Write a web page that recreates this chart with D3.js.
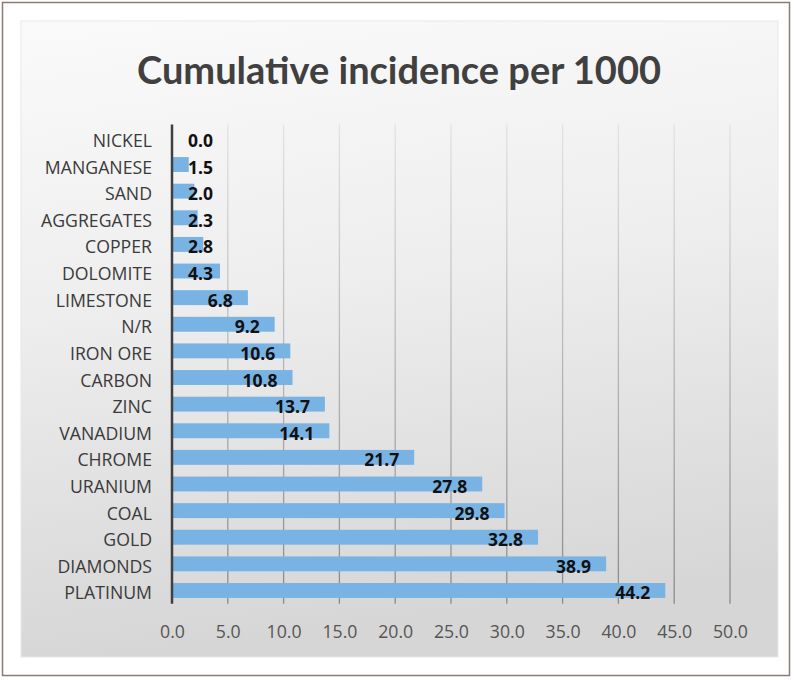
<!DOCTYPE html>
<html>
<head>
<meta charset="utf-8">
<script src="https://cdn.jsdelivr.net/npm/d3@7"></script>
<style>
  body { margin: 0; background: #fff; }
  svg { display: block; }
</style>
</head>
<body>
<svg id="chart" width="800" height="680"></svg>
<script>
// Data
const categories = ['NICKEL', 'MANGANESE', 'SAND', 'AGGREGATES', 'COPPER', 'DOLOMITE', 'LIMESTONE', 'N/R',
    'IRON ORE', 'CARBON', 'ZINC', 'VANADIUM', 'CHROME', 'URANIUM', 'COAL', 'GOLD', 'DIAMONDS', 'PLATINUM'];
const values = [0.0, 1.5, 2.0, 2.3, 2.8, 4.3, 6.8, 9.2, 10.6, 10.8, 13.7, 14.1, 21.7, 27.8, 29.8, 32.8, 38.9, 44.2];
const xTicks = [0, 5, 10, 15, 20, 25, 30, 35, 40, 45, 50];
const title = 'Cumulative incidence per 1000';

const data = categories.map((c, i) => ({ name: c, value: values[i] }));

const svg = d3.select('#chart');

// Gradients for the panel and the gridlines
const defs = svg.append('defs');
const bg = defs.append('linearGradient').attr('id', 'bg')
    .attr('x1', '0').attr('y1', '0').attr('x2', '0.15').attr('y2', '1');
bg.append('stop').attr('offset', '0').attr('stop-color', '#fafafa');
bg.append('stop').attr('offset', '0.45').attr('stop-color', '#eeeeee');
bg.append('stop').attr('offset', '1').attr('stop-color', '#d6d6d6');

const gridGrad = defs.append('linearGradient').attr('id', 'gridGrad')
    .attr('gradientUnits', 'userSpaceOnUse')
    .attr('x1', 0).attr('y1', 125).attr('x2', 0).attr('y2', 604);
gridGrad.append('stop').attr('offset', '0').attr('stop-color', '#e2e2e2');
gridGrad.append('stop').attr('offset', '1').attr('stop-color', '#8a8a8a');

// Outer frame
svg.append('rect')
    .attr('x', 2.5).attr('y', 2.5).attr('width', 787).attr('height', 673)
    .attr('fill', '#fff').attr('stroke', '#8c7b72').attr('stroke-width', 1.5);

// Chart panel
svg.append('rect')
    .attr('x', 21).attr('y', 21).attr('width', 757).attr('height', 636)
    .attr('fill', 'url(#bg)').attr('stroke', '#e4e8ec').attr('stroke-width', 1);

// Scales
const x = d3.scaleLinear().domain([0, 50]).range([172, 730]);
const y = d3.scaleBand().domain(categories).range([124.6, 603.8]).paddingInner(0.44).paddingOuter(0.22);

// Title
svg.append('text')
    .attr('x', 399).attr('y', 84)
    .attr('text-anchor', 'middle')
    .style('font-family', "Lato, 'Open Sans', sans-serif")
    .style('font-weight', 'bold')
    .style('font-size', '38px')
    .attr('fill', '#404040')
    .text(title);

// Vertical gridlines
svg.append('g')
    .selectAll('line')
    .data(xTicks.filter(t => t > 0))
    .enter()
    .append('line')
    .attr('x1', d => x(d)).attr('x2', d => x(d))
    .attr('y1', 124.6).attr('y2', 603.8)
    .attr('stroke', 'url(#gridGrad)')
    .attr('stroke-width', 1.3);

// Bars
svg.append('g')
    .selectAll('rect')
    .data(data)
    .enter()
    .append('rect')
    .attr('x', x(0))
    .attr('y', d => y(d.name))
    .attr('width', d => x(d.value) - x(0))
    .attr('height', y.bandwidth())
    .attr('fill', '#78b3e4');

// Category axis
const yAxis = svg.append('g')
    .attr('transform', `translate(${x(0)},0)`)
    .call(d3.axisLeft(y).tickSize(0).tickPadding(20));
yAxis.select('.domain').remove();
yAxis.selectAll('text')
    .attr('dy', null)
    .attr('y', 9)
    .style('font-family', "'Open Sans', sans-serif")
    .style('font-size', '17.7px')
    .attr('fill', '#3a3a3a');

svg.append('line')
    .attr('x1', x(0)).attr('x2', x(0))
    .attr('y1', 124.6).attr('y2', 603.8)
    .attr('stroke', '#404040').attr('stroke-width', 2.5);

// Value axis
const xAxis = svg.append('g')
    .attr('transform', 'translate(0,603.8)')
    .call(d3.axisBottom(x).tickValues(xTicks).tickFormat(d3.format('.1f')).tickSize(0).tickPadding(0));
xAxis.select('.domain').remove();
xAxis.selectAll('text')
    .attr('dy', null)
    .attr('y', 34)
    .style('font-family', "'Open Sans', sans-serif")
    .style('font-size', '17.7px')
    .attr('fill', '#555');

// Value labels
svg.append('g')
    .selectAll('text')
    .data(data)
    .enter()
    .append('text')
    .attr('x', d => Math.max(x(d.value) - 15, x(0) + 41))
    .attr('y', d => y(d.name) + y.bandwidth() / 2 + 9)
    .attr('text-anchor', 'end')
    .style('font-family', "'Open Sans', sans-serif")
    .style('font-weight', 'bold')
    .style('font-size', '17.5px')
    .attr('fill', '#111')
    .text(d => d3.format('.1f')(d.value));
</script>
</body>
</html>
